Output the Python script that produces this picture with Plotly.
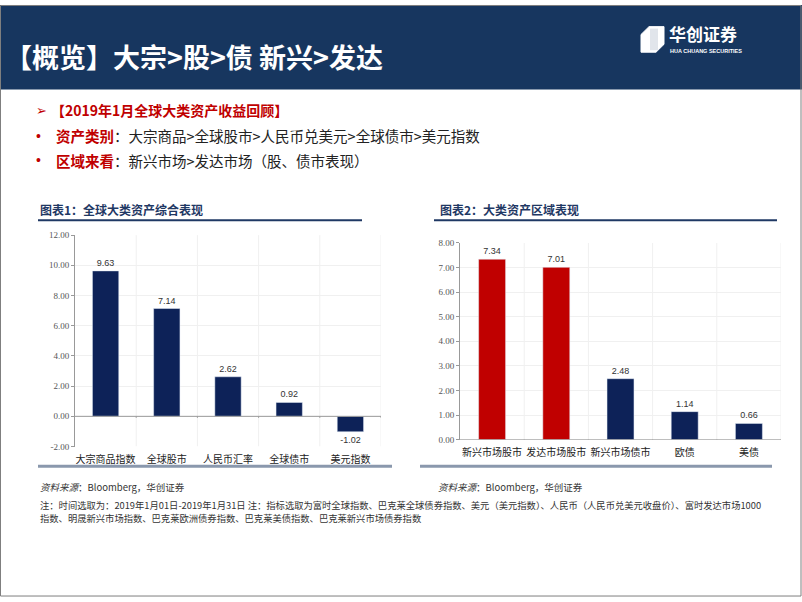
import plotly.graph_objects as go

W, H = 802, 602

# ---- data ----
cats1 = ["大宗商品指数", "全球股市", "人民币汇率", "全球债市", "美元指数"]
vals1 = [9.63, 7.14, 2.62, 0.92, -1.02]
cats2 = ["新兴市场股市", "发达市场股市", "新兴市场债市", "欧债", "美债"]
vals2 = [7.34, 7.01, 2.48, 1.14, 0.66]
colors2 = ["#c00000", "#c00000", "#0d2258", "#0d2258", "#0d2258"]
ticks1 = [-2, 0, 2, 4, 6, 8, 10, 12]
ticks2 = [0, 1, 2, 3, 4, 5, 6, 7, 8]

NAVY = "#0d2258"
CJK = "Noto Sans CJK SC"
SERIF = "Liberation Serif"


def px(x):
    return x / W


def py(y):
    return 1 - y / H


fig = go.Figure()

fig.add_trace(go.Bar(
    x=cats1, y=vals1, marker_color=NAVY, width=0.43,
    text=[f"{v:.2f}" for v in vals1], textposition="outside",
    textfont=dict(size=9, color="#333333", family="Liberation Sans"),
    cliponaxis=False, xaxis="x", yaxis="y", showlegend=False))

fig.add_trace(go.Bar(
    x=cats2, y=vals2, marker_color=colors2, width=0.42,
    text=[f"{v:.2f}" for v in vals2], textposition="outside",
    textfont=dict(size=9, color="#333333", family="Liberation Sans"),
    cliponaxis=False, xaxis="x2", yaxis="y2", showlegend=False))

axis_common = dict(showline=False, showgrid=False, zeroline=False,
                   tickfont=dict(family=CJK, size=10, color="#222222"),
                   ticks="", fixedrange=True)

fig.update_layout(
    width=W, height=H, margin=dict(l=0, r=0, t=0, b=0),
    paper_bgcolor="white", plot_bgcolor="white",
    xaxis=dict(domain=[px(75), px(381)], anchor="y", range=[-0.5, 4.5],
               ticklabelstandoff=5, **axis_common),
    yaxis=dict(domain=[py(449), py(234)], anchor="x", range=[-2, 12],
               tickvals=ticks1, ticktext=[f"{t:.2f}" for t in ticks1],
               showline=True, linecolor="#999999", linewidth=1,
               ticks="outside", ticklen=3, tickcolor="#999999",
               showgrid=True, gridcolor="#f0f0f0", zeroline=False,
               tickfont=dict(family=SERIF, size=9, color="#555555"),
               fixedrange=True),
    xaxis2=dict(domain=[px(460), px(781)], anchor="y2", range=[-0.5, 4.5],
                ticklabelstandoff=5, **axis_common),
    yaxis2=dict(domain=[py(442), py(242)], anchor="x2", range=[0, 8],
                tickvals=ticks2, ticktext=[f"{t:.2f}" for t in ticks2],
                showline=True, linecolor="#999999", linewidth=1,
                ticks="outside", ticklen=3, tickcolor="#999999",
                showgrid=True, gridcolor="#f0f0f0", zeroline=False,
                tickfont=dict(family=SERIF, size=9, color="#555555"),
                fixedrange=True),
    bargap=0.5,
)

shapes = []
# slide border
shapes.append(dict(type="rect", xref="paper", yref="paper", x0=px(0.5), x1=px(801), y0=py(601), y1=py(0.5),
                   line=dict(color="#7f7f7f", width=1), fillcolor="rgba(0,0,0,0)", layer="above"))
# header banner
shapes.append(dict(type="rect", xref="paper", yref="paper", x0=0, x1=1, y0=py(86), y1=1,
                   line=dict(width=0), fillcolor="#17365f", layer="below"))
# logo icon
shapes.append(dict(type="path", xref="paper", yref="paper",
                   path=f"M {px(641)},{py(30)} L {px(649)},{py(22)} L {px(664)},{py(22)} L {px(664)},{py(40)} "
                        f"L {px(656)},{py(48)} L {px(641)},{py(48)} Z",
                   line=dict(color="white", width=1), fillcolor="white", layer="above"))
for i in range(4):
    off = 2 + i * 2
    shapes.append(dict(type="line", xref="paper", yref="paper",
                       x0=px(649 + off), y0=py(24), x1=px(649 + off), y1=py(46),
                       line=dict(color="#9aa8bd", width=0.6), layer="above"))

# chart title underlines
shapes.append(dict(type="line", xref="paper", yref="paper", x0=px(38), x1=px(362), y0=py(219), y1=py(219),
                   line=dict(color="#1f3864", width=2)))
shapes.append(dict(type="line", xref="paper", yref="paper", x0=px(434), x1=px(777), y0=py(219), y1=py(219),
                   line=dict(color="#1f3864", width=2)))
# bottom gray bars under charts
shapes.append(dict(type="line", xref="paper", yref="paper", x0=px(38), x1=px(392), y0=py(469), y1=py(469),
                   line=dict(color="#8a98ad", width=3)))
shapes.append(dict(type="line", xref="paper", yref="paper", x0=px(420), x1=px(772), y0=py(469), y1=py(469),
                   line=dict(color="#8a98ad", width=3)))

# vertical gridlines
for xr, yr, y0, y1 in [("x", "y", -2, 12), ("x2", "y2", 0, 8)]:
    for b in [0.5, 1.5, 2.5, 3.5, 4.5]:
        shapes.append(dict(type="line", xref=xr, yref=yr, x0=b, x1=b, y0=y0, y1=y1,
                           line=dict(color="#f0f0f0", width=1), layer="below"))
# zero / base axis lines
shapes.append(dict(type="line", xref="x", yref="y", x0=-0.5, x1=4.5, y0=0, y1=0,
                   line=dict(color="#999999", width=1), layer="above"))
shapes.append(dict(type="line", xref="x2", yref="y2", x0=-0.5, x1=4.5, y0=0, y1=0,
                   line=dict(color="#999999", width=1), layer="above"))
for b in [0.5, 1.5, 2.5, 3.5, 4.5]:
    shapes.append(dict(type="line", xref="x", yref="y", x0=b, x1=b, y0=0, y1=-0.1,
                       line=dict(color="#999999", width=1)))
    shapes.append(dict(type="line", xref="x2", yref="y2", x0=b, x1=b, y0=0, y1=-0.12,
                       line=dict(color="#999999", width=1)))

fig.update_layout(shapes=shapes)

ann = []


def text(x, y, s, size, color="#333333", bold=False, family=CJK, xanchor="left", yanchor="middle"):
    if bold:
        s = f"<b>{s}</b>"
    ann.append(dict(xref="paper", yref="paper", x=px(x), y=py(y), text=s, showarrow=False,
                    xanchor=xanchor, yanchor=yanchor, align="left",
                    font=dict(family=family, size=size, color=color)))


text(3, 52, "【概览】大宗>股>债 新兴>发达", 27, "white", bold=True)
text(667, 29, "华创证券", 17, "white", bold=True)
text(668, 47, "HUA CHUANG SECURITIES", 5.5, "white", bold=True, family="Liberation Sans")

text(34, 107, "➢", 13, "#c00000", family="DejaVu Sans")
text(49, 107, "【2019年1月全球大类资产收益回顾】", 14, "#c00000", bold=True)
text(34, 133, "•", 14, "#c00000", family="Liberation Sans")
text(54, 133, "<span style='color:#c00000'><b>资产类别</b></span>：大宗商品>全球股市>人民币兑美元>全球债市>美元指数",
     14.5, "#222222")
text(34, 158, "•", 14, "#c00000", family="Liberation Sans")
text(54, 158, "<span style='color:#c00000'><b>区域来看</b></span>：新兴市场>发达市场（股、债市表现）",
     14.5, "#222222")

text(38, 208, "图表1：全球大类资产综合表现", 12, "#1f3864", bold=True)
text(438, 208, "图表2：大类资产区域表现", 12, "#1f3864", bold=True)

text(38, 490, "<i>资料来源</i>：Bloomberg，华创证券", 9.5, "#333333")
text(436, 490, "<i>资料来源</i>：Bloomberg，华创证券", 9.5, "#333333")

text(38, 508,
     "注：时间选取为：2019年1月01日-2019年1月31日 注：指标选取为富时全球指数、巴克莱全球债券指数、美元（美元指数）、人民币（人民币兑美元收盘价）、富时发达市场1000",
     9.3, "#333333")
text(38, 522, "指数、明晟新兴市场指数、巴克莱欧洲债券指数、巴克莱美债指数、巴克莱新兴市场债券指数", 9.3, "#333333")

fig.update_layout(annotations=ann)

fig.write_html("out.html", config={"displayModeBar": False},
               post_script="document.body.style.margin='0';document.body.style.overflow='hidden';")
